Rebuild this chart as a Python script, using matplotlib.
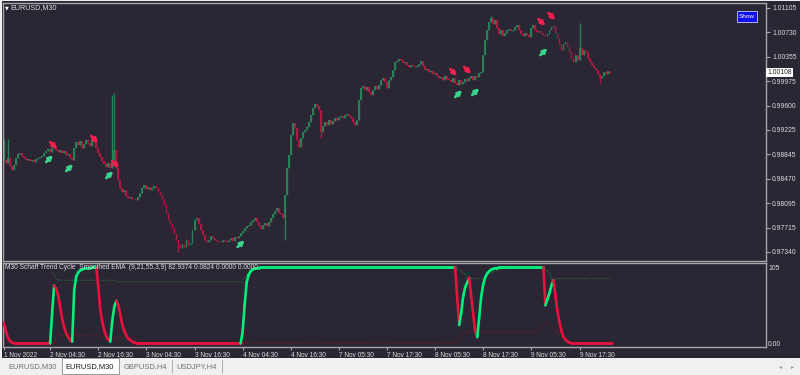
import numpy as np
import matplotlib.pyplot as plt
from matplotlib.patches import Rectangle

# ---- data (EURUSD M30, one value per bar) ----
closes = [
    0.98759, 0.98713, 0.98790, 0.98667, 0.98605, 0.98682, 0.98790, 0.98852, 0.98867, 0.98821,
    0.98790, 0.98759, 0.98775, 0.98744, 0.98759, 0.98728, 0.98775, 0.98790, 0.98805, 0.98821,
    0.98867, 0.98898, 0.98929, 0.98883, 0.98944, 0.98975, 0.98914, 0.98883, 0.98914, 0.98867,
    0.98898, 0.98836, 0.98852, 0.98790, 0.98759, 0.98944, 0.99037, 0.98991, 0.99052, 0.98944,
    0.99006, 0.99068, 0.99022, 0.98975, 0.99083, 0.99037, 0.98944, 0.98867, 0.98805, 0.98744,
    0.98697, 0.98651, 0.98713, 0.98636, 0.98759, 0.98914, 0.98636, 0.98451, 0.98327, 0.98265,
    0.98296, 0.98204, 0.98173, 0.98188, 0.98157, 0.98157, 0.98142, 0.98188, 0.98250, 0.98327,
    0.98373, 0.98312, 0.98343, 0.98296, 0.98327, 0.98358, 0.98327, 0.98265, 0.98219, 0.98157,
    0.98065, 0.97941, 0.97833, 0.97772, 0.97710, 0.97617, 0.97525, 0.97448, 0.97401, 0.97463,
    0.97417, 0.97525, 0.97448, 0.97479, 0.97679, 0.97833, 0.97864, 0.97772, 0.97679, 0.97602,
    0.97525, 0.97494, 0.97525, 0.97587, 0.97556, 0.97525, 0.97509, 0.97494, 0.97494, 0.97525,
    0.97509, 0.97494, 0.97525, 0.97556, 0.97509, 0.97571, 0.97556, 0.97587, 0.97633, 0.97664,
    0.97710, 0.97741, 0.97756, 0.97803, 0.97833, 0.97864, 0.97803, 0.97741, 0.97695, 0.97756,
    0.97787, 0.97741, 0.97803, 0.97864, 0.97926, 0.97972, 0.98019, 0.97941, 0.97926, 0.97864,
    0.98219, 0.98636, 0.98836, 0.99145, 0.99330, 0.99253, 0.99068, 0.98960, 0.99099, 0.99191,
    0.99222, 0.99268, 0.99346, 0.99454, 0.99562, 0.99623, 0.99592, 0.99531, 0.99191, 0.99284,
    0.99346, 0.99299, 0.99376, 0.99315, 0.99361, 0.99407, 0.99376, 0.99423, 0.99438, 0.99407,
    0.99454, 0.99469, 0.99438, 0.99407, 0.99346, 0.99299, 0.99376, 0.99685, 0.99870, 0.99901,
    0.99839, 0.99886, 0.99808, 0.99762, 0.99839, 0.99901, 0.99855, 0.99916, 0.99994, 1.00025,
    0.99963, 0.99870, 0.99994, 1.00040, 1.00148, 1.00271, 1.00287, 1.00318, 1.00302, 1.00256,
    1.00271, 1.00225, 1.00194, 1.00225, 1.00210, 1.00194, 1.00210, 1.00241, 1.00287, 1.00210,
    1.00148, 1.00163, 1.00117, 1.00133, 1.00086, 1.00102, 1.00055, 1.00025, 1.00040, 0.99994,
    1.00055, 1.00009, 0.99994, 0.99963, 1.00025, 0.99947, 0.99916, 0.99994, 0.99932, 0.99963,
    1.00009, 0.99978, 1.00025, 1.00055, 0.99994, 1.00055, 1.00040, 1.00102, 1.00117, 1.00379,
    1.00611, 1.00765, 1.00889, 1.00950, 1.00858, 1.00919, 1.00796, 1.00703, 1.00765, 1.00673,
    1.00719, 1.00765, 1.00781, 1.00750, 1.00765, 1.00811, 1.00842, 1.00765, 1.00703, 1.00673,
    1.00719, 1.00688, 1.00657, 1.00796, 1.00842, 1.00765, 1.00734, 1.00750, 1.00719, 1.00688,
    1.00673, 1.00703, 1.00765, 1.00811, 1.00827, 1.00719, 1.00642, 1.00549, 1.00457, 1.00549,
    1.00580, 1.00503, 1.00426, 1.00333, 1.00271, 1.00379, 1.00302, 1.00487, 1.00379, 1.00457,
    1.00426, 1.00333, 1.00271, 1.00225, 1.00179, 1.00148, 1.00086, 1.00025, 1.00055, 1.00117,
    1.00086, 1.00133, 1.00102, 1.00108,
]
# long wicks (bar index -> price)
spike_highs = {0: 0.99083, 2: 0.99083, 54: 0.99762, 55: 0.99793, 243: 1.00981, 287: 1.00873}
spike_lows = {87: 0.97340, 140: 0.97525, 158: 0.99099, 297: 0.99947}

# signal arrows (bar index, price)
buy_arrows = [(24.5, 0.98836), (34.5, 0.98697), (54.5, 0.98589), (120, 0.97525),
              (228.5, 0.99839), (237, 0.99870), (271, 1.00487)]
sell_arrows = [(26.5, 0.98929), (47, 0.99022), (57.5, 0.98636), (226, 1.00055),
               (233, 1.00086), (270, 1.00827), (275, 1.00919)]

price_ticks = [1.01105, 1.00730, 1.00355, 0.99975, 0.99600, 0.99225,
               0.98845, 0.98470, 0.98095, 0.97715, 0.97340]
last_price = 1.00108

# Schaff Trend Cycle, one value per bar
stc = [
    27, 15, 7, 3, 1,
    0, 0, 0, 0, 0, 0, 0, 0, 0, 0, 0, 0, 0, 0, 0, 0, 0, 0, 0,
    40, 76,
    72, 63, 48, 32, 21, 13, 8, 4, 2,
    70, 88, 93, 96, 97, 98, 99, 99, 99, 100, 100, 100,
    75, 45, 28, 17, 9, 5, 2,
    30, 48, 56,
    50, 38, 24, 16, 10, 6, 4, 2, 1,
    0, 0, 0, 0, 0, 0, 0, 0, 0, 0,
    0, 0, 0, 0, 0, 0, 0, 0, 0, 0,
    0, 0, 0, 0, 0, 0, 0, 0, 0, 0,
    0, 0, 0, 0, 0, 0, 0, 0, 0, 0,
    0, 0, 0, 0, 0, 0, 0, 0, 0, 0,
    0, 0, 0,
    15, 50, 80, 90, 95, 97, 98, 99, 99,
    100, 100, 100, 100, 100, 100, 100, 100, 100, 100,
    100, 100, 100, 100, 100, 100, 100, 100, 100, 100,
    100, 100, 100, 100, 100, 100, 100, 100, 100, 100,
    100, 100, 100, 100, 100, 100, 100, 100, 100, 100,
    100, 100, 100, 100, 100, 100, 100, 100, 100, 100,
    100, 100, 100, 100, 100, 100, 100, 100, 100, 100,
    100, 100, 100, 100, 100, 100, 100, 100, 100, 100,
    100, 100, 100, 100, 100, 100, 100, 100, 100, 100,
    100, 100, 100, 100, 100, 100, 100, 100, 100, 100,
    100, 100, 100, 100, 100, 100, 100, 100,
    60, 24,
    40, 62, 74, 80, 86,
    62, 38, 15, 8,
    35, 62, 78, 87, 92, 95, 97, 98, 99, 99,
    100, 100, 100, 100, 100, 100, 100, 100, 100, 100,
    100, 100, 100, 100, 100, 100, 100, 100, 100, 100,
    100, 100, 100,
    50,
    58, 66, 76, 83,
    63, 42, 28, 16, 8, 5, 2, 1,
    0, 0, 0, 0, 0, 0, 0, 0, 0, 0,
    0, 0, 0, 0, 0, 0, 0, 0, 0, 0,
    0,
]
# dotted helper buffers, as (bar index, value) vertices
sig_green_x = [24, 26, 27, 55, 57, 119, 121, 123, 127, 225, 229, 232, 239, 243, 247, 252, 269, 272, 273, 303]
sig_green_y = [94, 84, 83, 83, 81, 81, 90, 96, 99, 99, 93, 85, 85, 93, 97, 99, 99, 93, 85, 85]
sig_red_x = [0, 25, 26, 47, 53, 56, 65, 67, 225, 230, 265, 272, 277, 282, 303]
sig_red_y = [0, 0, 10, 10, 2, 8, 8, 0, 0, 15, 15, 27, 11, 0, 0]

time_pos = [0, 23, 47, 71, 95, 119, 143, 167, 191, 215, 239, 263, 287]
time_labels = ['1 Nov 2022', '2 Nov 04:30', '2 Nov 16:30', '3 Nov 04:30', '3 Nov 16:30',
               '4 Nov 04:30', '4 Nov 16:30', '7 Nov 05:30', '7 Nov 17:30', '8 Nov 05:30',
               '8 Nov 17:30', '9 Nov 05:30', '9 Nov 17:30']

tabs = ['EURUSD,M30', 'EURUSD,M30', 'GBPUSD,H4', 'USDJPY,H4']

# ---- styling ----
plt.rcParams['font.family'] = ['Liberation Sans', 'DejaVu Sans']
BG = '#2a2633'
FRAME = '#a6a6ab'
TXT = '#dcdcdc'
BULL, BEAR = '#2a8056', '#ad1a40'
W, H = 800, 375


def fr(x0, y0, x1, y1):
    # pixel box (top-left origin) -> figure fraction [l, b, w, h]
    return [x0 / W, 1 - y1 / H, (x1 - x0) / W, (y1 - y0) / H]


fig = plt.figure(figsize=(8, 3.75), dpi=100, facecolor='#f0f0f0')
l, b, w, h = fr(2, 1, 800, 358)
fig.patches.append(Rectangle((l, b), w, h, transform=fig.transFigure, fc=BG, ec='none', zorder=-10))

ax = fig.add_axes(fr(3, 3, 766, 261))
axi = fig.add_axes(fr(3, 263, 766, 347))
for a in (ax, axi):
    a.set_facecolor(BG)
    for s in a.spines.values():
        s.set_color(FRAME)
        s.set_linewidth(1.0)
    a.set_xlim(-0.5, 380)

# ---- candles ----
n = len(closes)
idx = np.arange(n)
c = np.array(closes)
o = np.concatenate([[closes[0]], c[:-1]])
hi = np.maximum(o, c)
lo = np.minimum(o, c)
for k, v in spike_highs.items():
    hi[k] = v
for k, v in spike_lows.items():
    lo[k] = v
up = c >= o
cols = np.where(up, BULL, BEAR)
ax.vlines(idx, lo, hi, colors=cols, lw=1.0)
ax.bar(idx, np.abs(c - o), bottom=np.minimum(o, c), width=0.9, color=cols, lw=0)

for x, y in buy_arrows:
    ax.annotate('', xy=(x, y), xytext=(-5, -5), textcoords='offset points',
                arrowprops=dict(arrowstyle='-|>', color='#38d48e', lw=2.0, mutation_scale=6,
                                shrinkA=0, shrinkB=0))
for x, y in sell_arrows:
    ax.annotate('', xy=(x, y), xytext=(-5, 5), textcoords='offset points',
                arrowprops=dict(arrowstyle='-|>', color='#f0204f', lw=2.0, mutation_scale=6,
                                shrinkA=0, shrinkB=0))

ax.set_ylim(0.97201, 1.01182)
ax.set_xticks([])
ax.yaxis.tick_right()
ax.set_yticks(price_ticks)
ax.set_yticklabels(['%.5f' % p for p in price_ticks])
ax.tick_params(axis='y', colors=FRAME, labelcolor=TXT, labelsize=4.9, length=3, pad=1.5)
ax.text(1.0015, last_price, '%.5f' % last_price, transform=ax.get_yaxis_transform(),
        fontsize=4.9, color='#202020', va='center', ha='left',
        bbox=dict(fc='white', ec='none', pad=0.9))

fig.text(5 / W, 1 - 7.5 / H, '\u25bc', fontsize=3.5, color='white', va='center', family='DejaVu Sans')
fig.text(10 / W, 1 - 7.5 / H, 'EURUSD,M30', fontsize=5.2, color=TXT, va='center')
# Show button
l, b, w, h = fr(737, 11, 757, 22)
fig.patches.append(Rectangle((l, b), w, h, transform=fig.transFigure, fc='#1010e8', ec='#c8c8ff', lw=0.6))
fig.text(747 / W, 1 - 16.5 / H, 'Show', fontsize=4.6, color='white', ha='center', va='center')

# ---- Schaff Trend Cycle panel ----
s = np.array(stc, dtype=float)
m = min(len(s), n)
state = 'down'
for i in range(1, m):
    if s[i] > s[i - 1]:
        state = 'up'
    elif s[i] < s[i - 1]:
        state = 'down'
    axi.plot([i - 1, i], [s[i - 1], s[i]], color='#00ee7c' if state == 'up' else '#e8123e',
             lw=1.9, solid_capstyle='round', zorder=3)
axi.plot(sig_green_x, sig_green_y, color='#2f7a37', lw=0.8, ls=(0, (1, 1.5)), zorder=2)
axi.plot(sig_red_x, sig_red_y, color='#7d1d24', lw=0.8, ls=(0, (1, 1.5)), zorder=2)

axi.set_ylim(-4.9, 105.7)
axi.yaxis.tick_right()
axi.set_yticks([100, 0])
axi.set_yticklabels(['105', '0.00'])
axi.tick_params(axis='y', colors=FRAME, labelcolor=TXT, labelsize=4.9, length=0, pad=1.5)
axi.set_xticks(time_pos)
axi.set_xticklabels(time_labels, ha='left')
axi.tick_params(axis='x', colors=FRAME, labelcolor=TXT, labelsize=4.7, length=2, pad=1.5)
axi.text(0.002, 0.945, 'M30 Schaff Trend Cycle  Smoothed EMA  (9,21,55,3,9) 82.9374 0.0824 0.0000 0.0000',
         transform=axi.transAxes, fontsize=4.8, color=TXT, va='center', ha='left')

# ---- tab bar ----
l, b, w, h = fr(0, 358, 800, 375)
fig.patches.append(Rectangle((l, b), w, h, transform=fig.transFigure, fc='#f0f0f0', ec='none'))
l, b, w, h = fr(62, 358, 119, 374)
fig.patches.append(Rectangle((l, b), w, h, transform=fig.transFigure, fc='white', ec='#9a9a9a', lw=0.7))
tab_cx = [33, 90, 145, 197]
for k, (t, cx) in enumerate(zip(tabs, tab_cx)):
    fig.text(cx / W, 1 - 366.5 / H, t, fontsize=5.4, ha='center', va='center',
             color='#1a1a1a' if k == 1 else '#707070')
for sx in [172, 222]:
    fig.lines.append(plt.Line2D([sx / W, sx / W], [1 - 360 / H, 1 - 373 / H],
                                transform=fig.transFigure, color='#b0b0b0', lw=0.7))
fig.text(781 / W, 1 - 366.5 / H, '\u25c2', fontsize=4.5, color='#999999', ha='center', va='center', family='DejaVu Sans')
fig.text(793 / W, 1 - 366.5 / H, '\u25b8', fontsize=4.5, color='#999999', ha='center', va='center', family='DejaVu Sans')

fig.savefig('out.png', dpi=100, facecolor=fig.get_facecolor())
